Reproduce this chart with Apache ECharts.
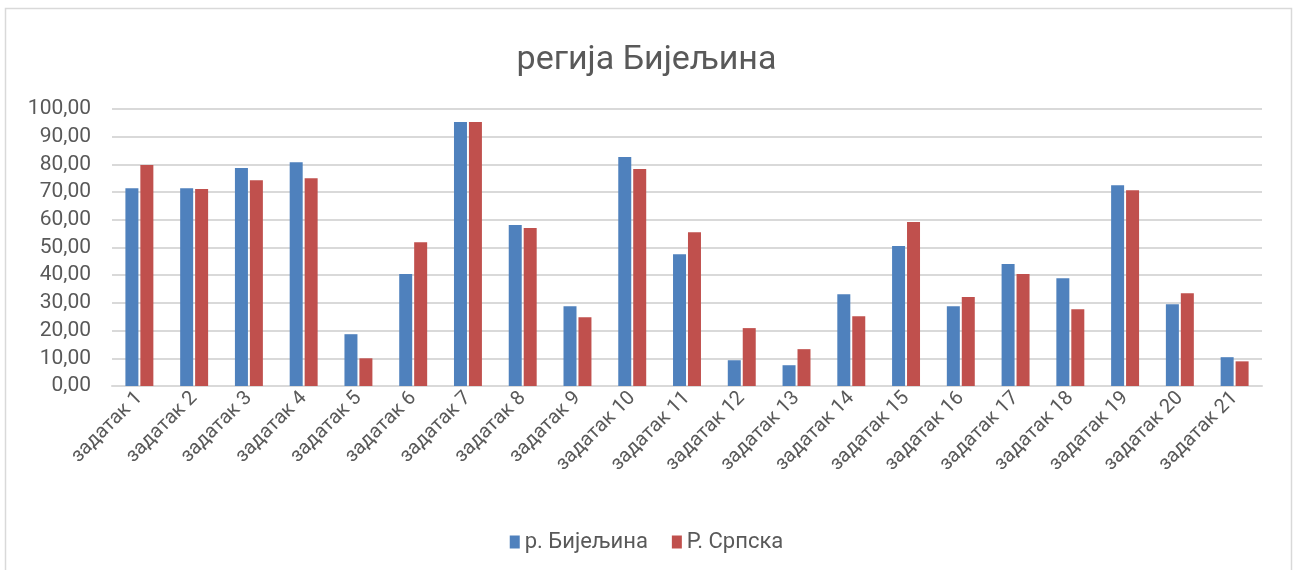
<!DOCTYPE html>
<html>
<head>
<meta charset="utf-8">
<script src="https://cdn.jsdelivr.net/npm/echarts@6/dist/echarts.min.js"></script>
<style>
  html, body { margin: 0; padding: 0; background: #fff; }
  #chart { width: 1293px; height: 570px; }
</style>
</head>
<body>
<div id="chart"></div>
<script>
const TITLE = "регија Бијељина";
const CATEGORIES = [
  "задатак 1", "задатак 2", "задатак 3", "задатак 4", "задатак 5", "задатак 6", "задатак 7",
  "задатак 8", "задатак 9", "задатак 10", "задатак 11", "задатак 12", "задатак 13", "задатак 14",
  "задатак 15", "задатак 16", "задатак 17", "задатак 18", "задатак 19", "задатак 20", "задатак 21",
];
const SERIES_NAMES = ["р. Бијељина", "Р. Српска"];
const BIJELJINA = [
  71.4, 71.4, 78.7, 80.8, 18.7, 40.4, 95.3, 58.1, 28.8, 82.7, 47.6,
  9.3, 7.5, 33.1, 50.5, 28.8, 44.0, 38.9, 72.5, 29.5, 10.4,
];
const SRPSKA = [
  79.8, 71.1, 74.3, 75.0, 10.0, 51.9, 95.3, 57.0, 24.8, 78.3, 55.5,
  20.9, 13.3, 25.2, 59.2, 32.1, 40.4, 27.7, 70.7, 33.5, 8.9,
];
const Y_MIN = 0;
const Y_MAX = 100;
const Y_STEP = 10;

const COLORS = ["#4f81bd", "#c0504d"];
const TEXT_COLOR = "#595959";
const GRID_COLOR = "#d9d9d9";
const FONT = "Roboto, 'Noto Sans', sans-serif";

const chart = echarts.init(document.getElementById("chart"), undefined, { renderer: "canvas" });

chart.setOption({
  animation: false,
  textStyle: { fontFamily: FONT },
  graphic: [
    {
      type: "rect",
      shape: { x: 5.5, y: 8.5, width: 1286, height: 580 },
      style: { fill: "none", stroke: GRID_COLOR, lineWidth: 1.5 },
      silent: true,
    },
  ],
  title: {
    text: TITLE,
    left: "center",
    top: 38,
    textStyle: { fontFamily: FONT, fontSize: 34, fontWeight: "normal", color: TEXT_COLOR },
  },
  legend: {
    data: SERIES_NAMES,
    left: "center",
    top: 526,
    icon: "rect",
    itemWidth: 10,
    itemHeight: 13,
    itemGap: 24,
    textStyle: { fontFamily: FONT, fontSize: 22, color: TEXT_COLOR },
  },
  grid: { left: 112, right: 31, top: 109, bottom: 184 },
  xAxis: {
    type: "category",
    data: CATEGORIES,
    axisLine: { lineStyle: { color: GRID_COLOR, width: 2 } },
    axisTick: { show: false },
    axisLabel: {
      interval: 0,
      rotate: 45,
      margin: 9,
      fontFamily: FONT,
      fontSize: 20,
      color: TEXT_COLOR,
    },
  },
  yAxis: {
    type: "value",
    min: Y_MIN,
    max: Y_MAX,
    interval: Y_STEP,
    axisLine: { show: false },
    axisTick: { show: false },
    splitLine: { lineStyle: { color: GRID_COLOR, width: 2 } },
    axisLabel: {
      margin: 21,
      fontFamily: FONT,
      fontSize: 21,
      color: TEXT_COLOR,
      formatter: (value) => value.toFixed(2).replace(".", ","),
    },
  },
  series: [
    {
      name: SERIES_NAMES[0],
      type: "bar",
      data: BIJELJINA,
      barWidth: 13,
      barGap: "15%",
      itemStyle: { color: COLORS[0] },
    },
    {
      name: SERIES_NAMES[1],
      type: "bar",
      data: SRPSKA,
      barWidth: 13,
      barGap: "15%",
      itemStyle: { color: COLORS[1] },
    },
  ],
});
</script>
</body>
</html>
